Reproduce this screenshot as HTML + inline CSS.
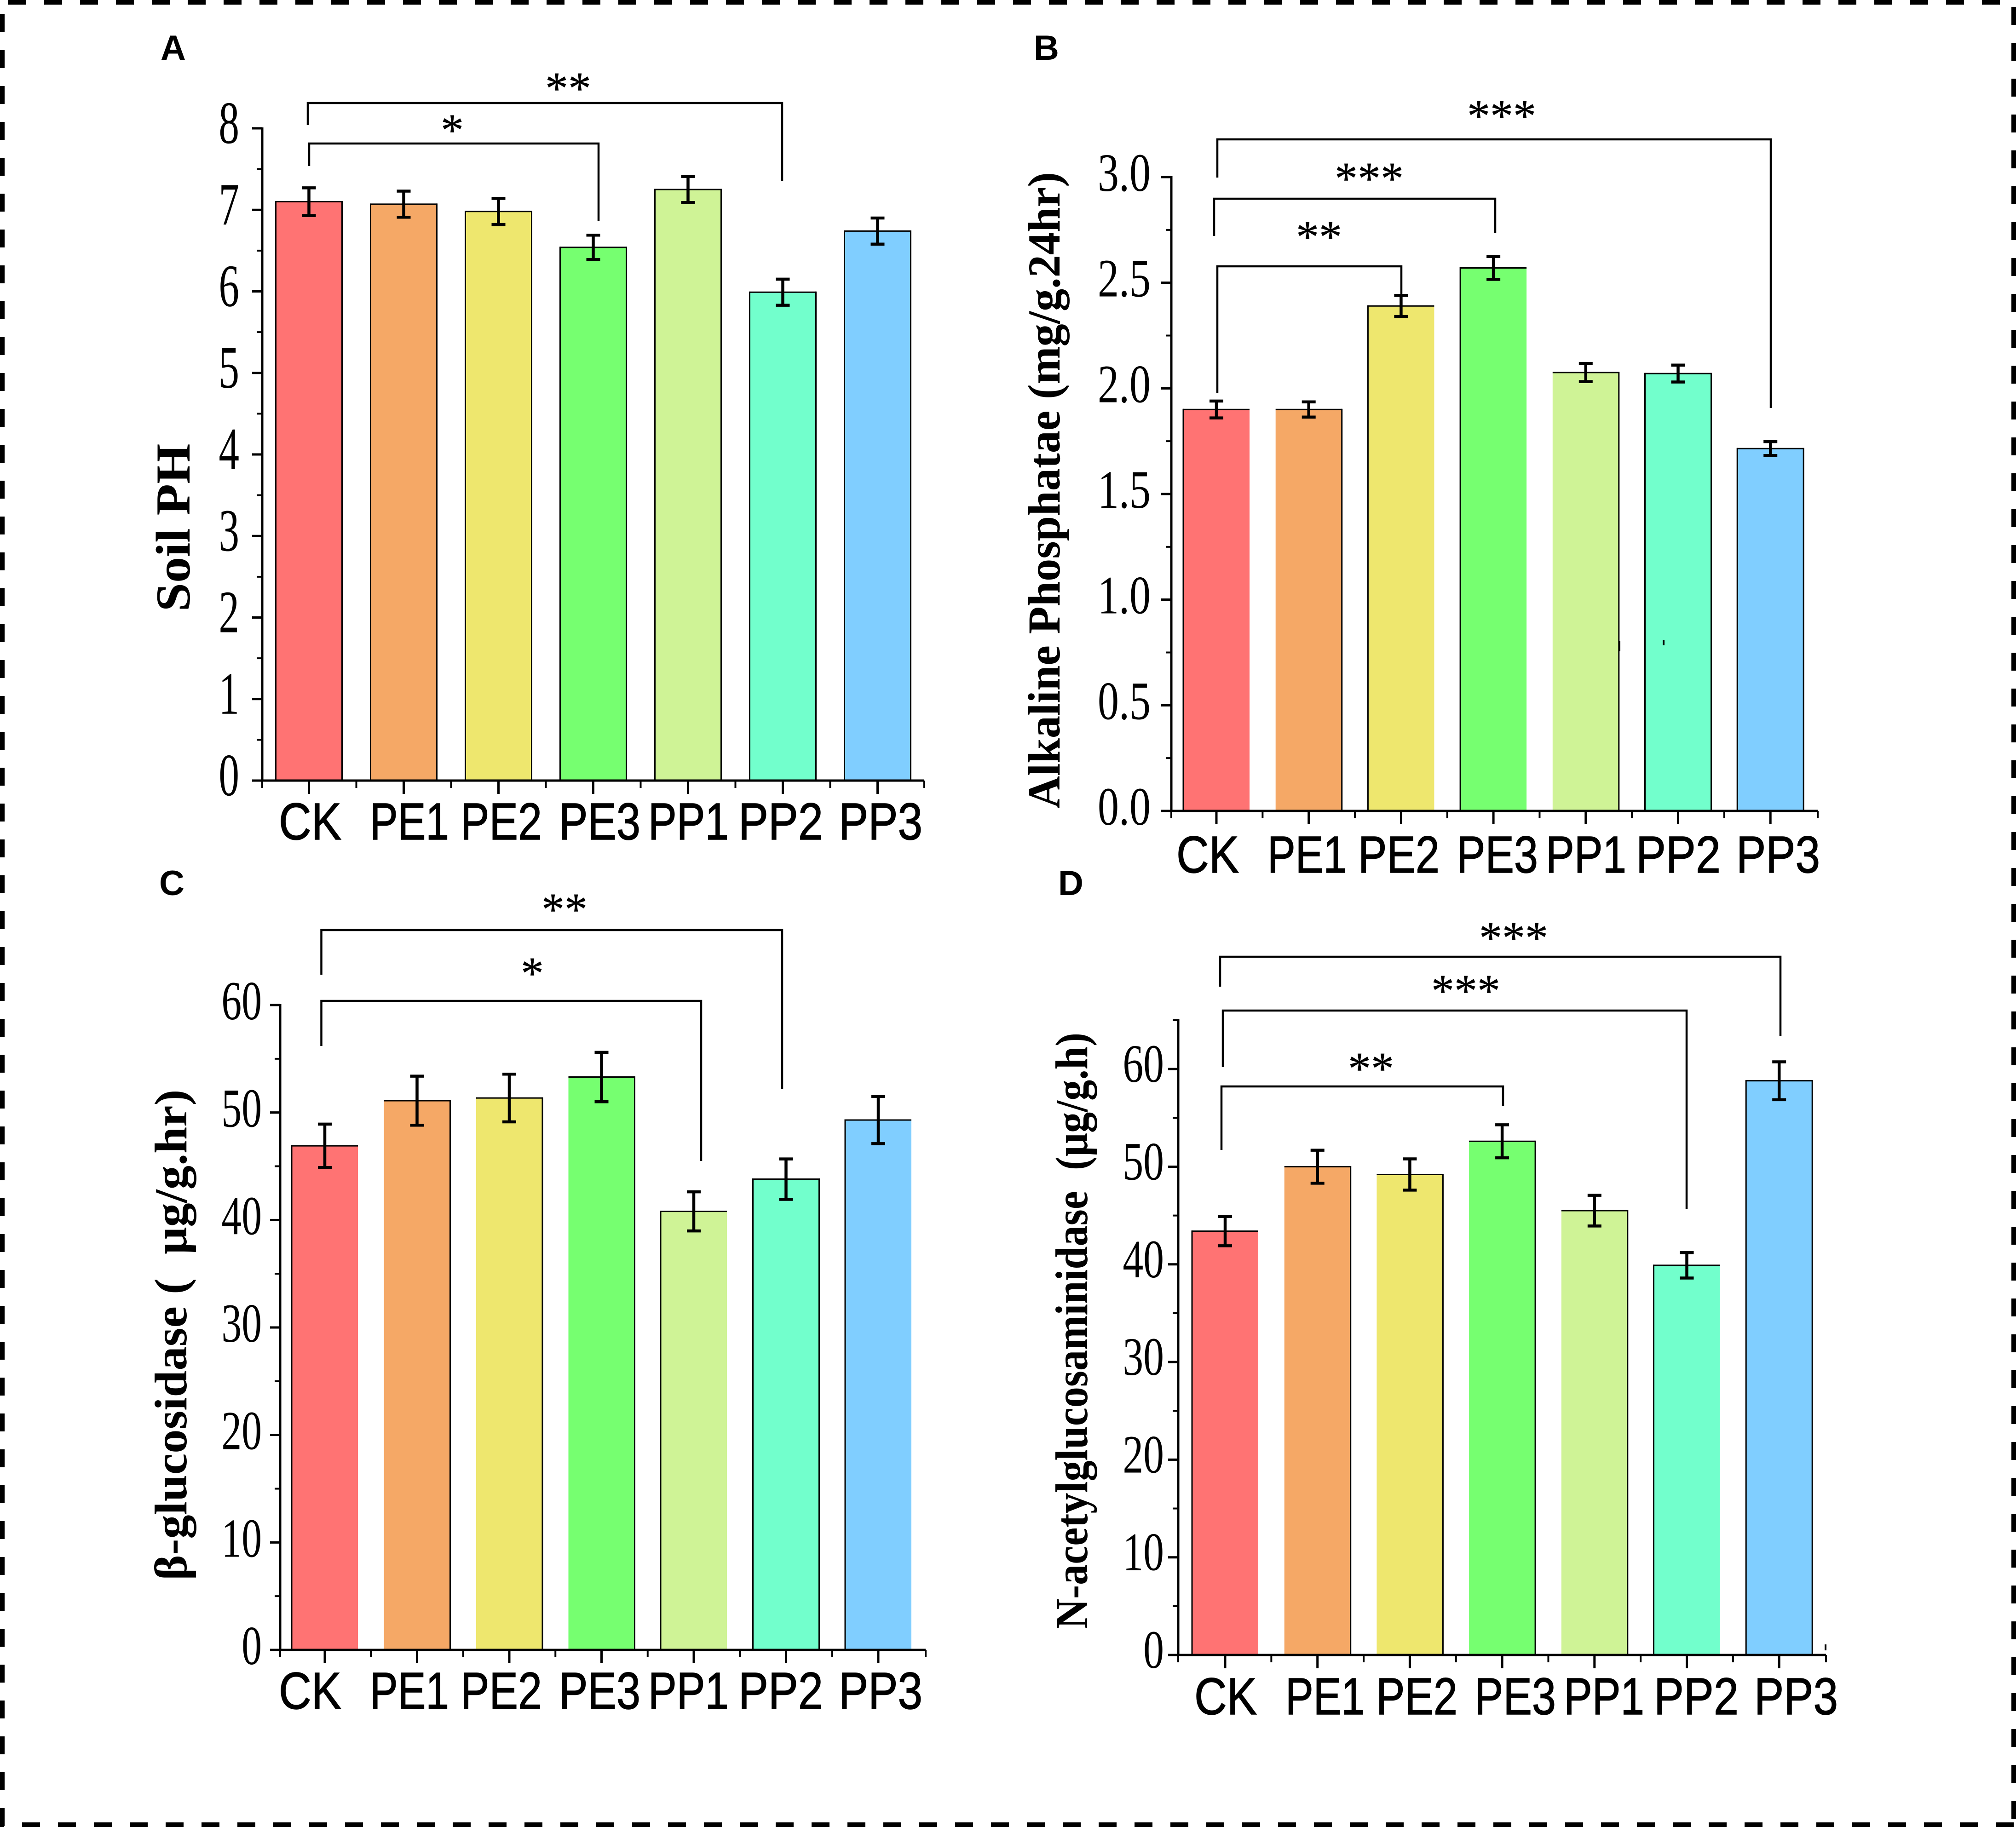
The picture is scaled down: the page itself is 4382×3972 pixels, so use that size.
<!DOCTYPE html>
<html lang="en">
<head>
<meta charset="utf-8">
<title>Soil enzyme activity bar charts</title>
<style>
html,body{margin:0;padding:0;background:#fff}
svg{display:block}
</style>
</head>
<body>
<svg id="figure" xmlns="http://www.w3.org/2000/svg" width="4382" height="3972" viewBox="0 0 4382 3972">
<rect width="4382" height="3972" fill="#fff"/>
<g stroke="#000" stroke-width="10" stroke-dasharray="39 39" fill="none">
<line x1="18" y1="5" x2="4382" y2="5"/>
<line x1="5" y1="31" x2="5" y2="3972"/>
<line x1="4377" y1="-63" x2="4377" y2="3972"/>
<line x1="-30" y1="3967" x2="4382" y2="3967"/>
</g>
<g id="stray-marks" stroke="#000" stroke-width="4">
<line x1="3520" y1="1393" x2="3520" y2="1416"/>
<line x1="3616" y1="1392" x2="3616" y2="1403"/>
<line x1="3968" y1="3575" x2="3968" y2="3588"/>
</g>
</svg>
<script>
const categories = ["CK", "PE1", "PE2", "PE3", "PP1", "PP2", "PP3"];

const soilPhValues = [7.10, 7.07, 6.98, 6.54, 7.25, 5.99, 6.74];
const soilPhErrors = [0.17, 0.16, 0.16, 0.15, 0.16, 0.16, 0.16];
const soilPhTicks = ["0", "1", "2", "3", "4", "5", "6", "7", "8"];

const alpValues = [1.90, 1.90, 2.39, 2.57, 2.075, 2.07, 1.715];
const alpErrors = [0.04, 0.036, 0.05, 0.054, 0.043, 0.04, 0.033];
const alpTicks = ["0.0", "0.5", "1.0", "1.5", "2.0", "2.5", "3.0"];

const glucValues = [46.9, 51.1, 51.35, 53.3, 40.8, 43.8, 49.3];
const glucErrors = [2.02, 2.28, 2.22, 2.3, 1.82, 1.88, 2.2];
const glucTicks = ["0", "10", "20", "30", "40", "50", "60"];

const nagValues = [43.4, 50.0, 49.2, 52.6, 45.5, 39.9, 58.8];
const nagErrors = [1.5, 1.69, 1.6, 1.69, 1.57, 1.3, 1.94];
const nagTicks = ["0", "10", "20", "30", "40", "50", "60"];

const barColors = ["#FF7373", "#F5A866", "#EEE76E", "#76FF70", "#CFF396", "#72FFCC", "#80CEFF"];
const labelOffsets = [0, 198, 395, 609, 803, 999, 1217];
const labelWidths = { CK: 136, PE1: 172, PE2: 177, PE3: 177, PP1: 175, PP2: 184, PP3: 182 };

const panels = [
  { id: "a", letter: "A", letterX: 349, letterY: 130,
    values: soilPhValues, errors: soilPhErrors, ticks: soilPhTicks, yMax: 8,
    axisX: 570, right: 2009, y0: 1697, yTop: 279, x0: 671.5, step: 206,
    tickFont: 131, tickScale: 0.68, tickRight: 520, tickDy: 32,
    labelX: 606, labelY: 1825,
    title: "Soil PH", titleX: 412, titleY: 1147, titleLen: 365, titleFont: 106,
    sides: ["LRT", "LRT", "LRT", "LRT", "LRT", "LRT", "LRT"],
    brackets: [
      { x1: 669, y1: 272, top: 224, x2: 1700, y2: 393, stars: "**", sx: 1235, sy: 181 },
      { x1: 672, y1: 361, top: 312, x2: 1301, y2: 481, stars: "*", sx: 983, sy: 272 }
    ] },
  { id: "b", letter: "B", letterX: 2247, letterY: 130,
    values: alpValues, errors: alpErrors, ticks: alpTicks, yMax: 3,
    axisX: 2546, right: 3951, y0: 1763, yTop: 385, x0: 2644, step: 200.7,
    tickFont: 118, tickScale: 0.78, tickRight: 2501, tickDy: 30,
    labelX: 2557, labelY: 1897,
    title: "Alkaline Phosphatae (mg/g.24hr)", titleX: 2303, titleY: 1066, titleLen: 1384, titleFont: 100,
    sides: ["LT", "RT", "LT", "LT", "RT", "LRT", "LRT"],
    brackets: [
      { x1: 2646, y1: 386, top: 303, x2: 3849, y2: 887, stars: "***", sx: 3264, sy: 241 },
      { x1: 2639, y1: 513, top: 432, x2: 3250, y2: 507, stars: "***", sx: 2976, sy: 377 },
      { x1: 2646, y1: 855, top: 579, x2: 3046, y2: 652, stars: "**", sx: 2867, sy: 504 }
    ] },
  { id: "c", letter: "C", letterX: 346, letterY: 1946,
    values: glucValues, errors: glucErrors, ticks: glucTicks, yMax: 60,
    axisX: 609, right: 2012, y0: 3587, yTop: 2185, x0: 706, step: 200.5,
    tickFont: 120, tickScale: 0.73, tickRight: 569, tickDy: 31,
    labelX: 606, labelY: 3715,
    title: "β-glucosidase (\u00a0\u00a0μg/g.hr)", titleX: 405, titleY: 2902, titleLen: 1067, titleFont: 100,
    sides: ["LT", "RT", "RT", "RT", "LT", "LRT", "LT"],
    brackets: [
      { x1: 698.5, y1: 2119, top: 2022, x2: 1700, y2: 2367, stars: "**", sx: 1227, sy: 1966 },
      { x1: 698.5, y1: 2274, top: 2176, x2: 1524, y2: 2524, stars: "*", sx: 1157, sy: 2105 }
    ] },
  { id: "d", letter: "D", letterX: 2300, letterY: 1946,
    values: nagValues, errors: nagErrors, ticks: nagTicks, yMax: 65,
    axisX: 2561, right: 3969, y0: 3598, yTop: 2218, x0: 2663, step: 200.7,
    tickFont: 118, tickScale: 0.76, tickRight: 2530, tickDy: 28,
    labelX: 2596, labelY: 3727,
    title: "N-acetylglucosaminidase\u00a0\u00a0(μg/g.h)", titleX: 2363, titleY: 2893, titleLen: 1296, titleFont: 100,
    sides: ["LT", "RT", "RT", "RT", "RT", "LT", "LRT"],
    brackets: [
      { x1: 2652, y1: 2145, top: 2080, x2: 3870, y2: 2252, stars: "***", sx: 3290, sy: 2028 },
      { x1: 2658, y1: 2320, top: 2197, x2: 3666, y2: 2628, stars: "***", sx: 3186, sy: 2143 },
      { x1: 2655, y1: 2500, top: 2362, x2: 3267, y2: 2405, stars: "**", sx: 2980, sy: 2312 }
    ] }
];

const SVGNS = "http://www.w3.org/2000/svg";
const SERIF = '"Liberation Serif", "Noto Serif CJK SC", serif';
const SANS = '"Liberation Sans", sans-serif';
const figure = document.getElementById("figure");

function make(tag, attrs, parent) {
  const node = document.createElementNS(SVGNS, tag);
  for (const key in attrs) node.setAttribute(key, attrs[key]);
  parent.appendChild(node);
  return node;
}
function yScale(p) {
  return function (v) { return p.y0 - (v / p.yMax) * (p.y0 - p.yTop); };
}
function xBand(p) {
  return function (i) { return p.x0 + i * p.step; };
}
function lineAttrs(x1, y1, x2, y2, w) {
  return { x1: x1, y1: y1, x2: x2, y2: y2, stroke: "#000", "stroke-width": w };
}

panels.forEach(function (p) {
  const y = yScale(p);
  const x = xBand(p);
  const group = make("g", {}, figure);
  
  

  const letter = make("text", { x: p.letterX, y: p.letterY, "font-family": SANS, "font-weight": "bold", "font-size": 76, fill: "#000" }, group);
  
  
  letter.textContent = p.letter;

  /* bars */
  categories.forEach(function (cat, i) {
    const cx = x(i), half = 72, topY = y(p.values[i]);
    const bar = make("rect", { x: cx - half, y: topY, width: half * 2, height: p.y0 - topY, fill: barColors[i] }, group);
    
    
    const sides = p.sides[i];
    if (sides.indexOf("L") >= 0) {
      const edge = make("line", lineAttrs(cx - half, topY - 1.5, cx - half, p.y0, 3), group);
      
      
    }
    if (sides.indexOf("R") >= 0) {
      const edge = make("line", lineAttrs(cx + half, topY - 1.5, cx + half, p.y0, 3), group);
      
      
    }
    if (sides.indexOf("T") >= 0) {
      const edge = make("line", lineAttrs(cx - half, topY, cx + half, topY, 3), group);
      
      
    }
    /* error bars */
    const hi = y(p.values[i] + p.errors[i]), lo = y(p.values[i] - p.errors[i]);
    const stem = make("line", lineAttrs(cx, hi, cx, lo, 6.5), group);
    
    
    const capTop = make("line", lineAttrs(cx - 15, hi, cx + 15, hi, 6.5), group);
    
    
    const capBottom = make("line", lineAttrs(cx - 15, lo, cx + 15, lo, 6.5), group);
    
    
  });

  /* y axis */
  const yAxis = make("line", lineAttrs(p.axisX, p.yTop - 2, p.axisX, p.y0, 5), group);
  
  
  const tickStep = parseFloat(p.ticks[1]) - parseFloat(p.ticks[0]);
  p.ticks.forEach(function (label) {
    const v = parseFloat(label), ty = y(v);
    const tick = make("line", lineAttrs(p.axisX - 22, ty, p.axisX, ty, 5), group);
    
    
    const minorV = v + tickStep / 2;
    if (minorV <= p.yMax) {
      const minor = make("line", lineAttrs(p.axisX - 12, y(minorV), p.axisX, y(minorV), 4), group);
      
      
    }
    const text = make("text", {
      transform: "translate(" + p.tickRight + "," + (ty + p.tickDy) + ") scale(" + p.tickScale + ",1)",
      "text-anchor": "end", "font-family": SERIF, "font-size": p.tickFont, fill: "#000"
    }, group);
    
    
    text.textContent = label;
  });

  /* x axis */
  const xAxis = make("line", lineAttrs(p.axisX - 22, p.y0, p.right, p.y0, 5), group);
  
  
  for (let i = -0.5; i <= categories.length - 0.5; i += 1) {
    const mx = i === -0.5 ? p.axisX : (i === categories.length - 0.5 ? p.right : x(i));
    const minor = make("line", lineAttrs(mx, p.y0, mx, p.y0 + 16, 4), group);
    
    
  }
  categories.forEach(function (cat, i) {
    const tick = make("line", lineAttrs(x(i), p.y0, x(i), p.y0 + 29, 5), group);
    
    
    const label = make("text", {
      x: p.labelX + labelOffsets[i], y: p.labelY, textLength: labelWidths[cat], lengthAdjust: "spacingAndGlyphs",
      "font-family": SANS, "font-size": 113, fill: "#000", stroke: "#000", "stroke-width": 1.5
    }, group);
    
    
    label.textContent = cat;
  });

  /* y axis title */
  const title = make("text", {
    transform: "translate(" + p.titleX + "," + p.titleY + ") rotate(-90)",
    x: -p.titleLen / 2, y: 0, textLength: p.titleLen, lengthAdjust: "spacingAndGlyphs",
    "font-family": SERIF, "font-weight": "bold", "font-size": p.titleFont, fill: "#000"
  }, group);
  
  
  title.textContent = p.title;

  /* significance brackets */
  p.brackets.forEach(function (b) {
    const path = make("path", {
      d: "M" + b.x1 + " " + b.y1 + "V" + b.top + "H" + b.x2 + "V" + b.y2,
      fill: "none", stroke: "#000", "stroke-width": 4.5
    }, group);
    
    
    const stars = make("text", {
      x: b.sx, y: b.sy + 44, "text-anchor": "middle", "font-family": SERIF, "font-size": 100,
      fill: "#000", stroke: "#000", "stroke-width": 0.5
    }, group);
    
    
    stars.textContent = b.stars;
  });
});

figure.appendChild(document.getElementById("stray-marks"));
</script>
</body>
</html>
